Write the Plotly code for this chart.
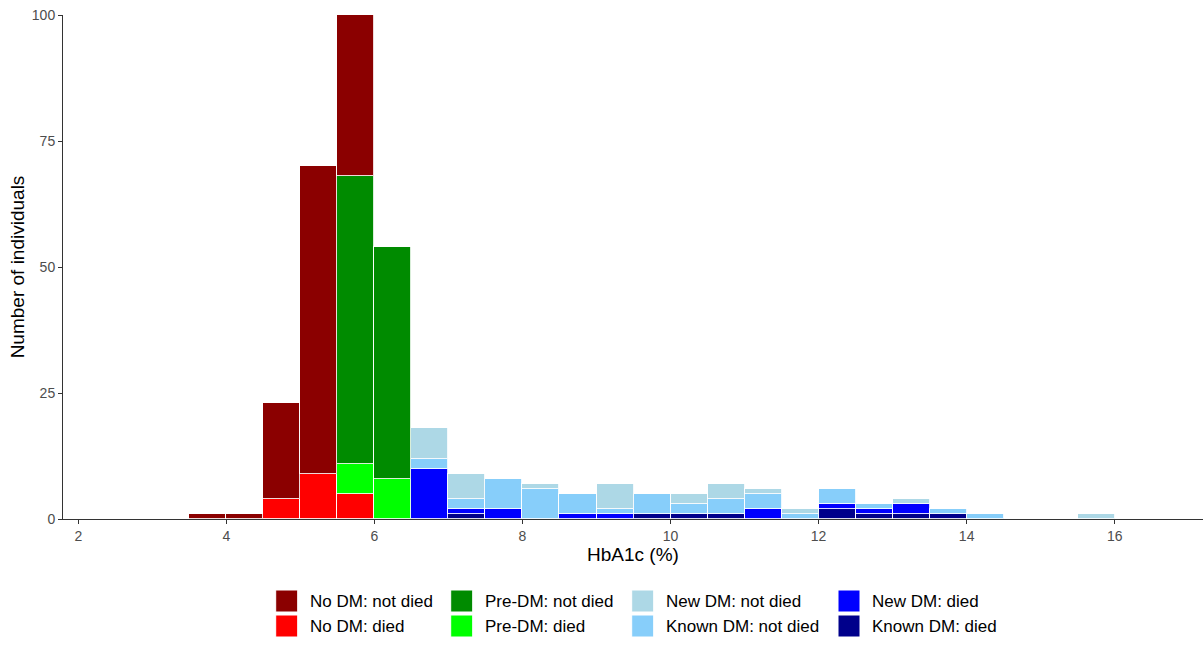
import plotly.graph_objects as go

# HbA1c bins (width 0.5 %), left edges
bin_left = [3.5, 4.0, 4.5, 5.0, 5.5, 6.0, 6.5, 7.0, 7.5, 8.0, 8.5, 9.0, 9.5,
            10.0, 10.5, 11.0, 11.5, 12.0, 12.5, 13.0, 13.5, 14.0, 14.5, 15.0, 15.5]
bin_width = 0.5

# Counts per bin for each group
no_dm_not_died    = [1, 1, 19, 61, 32, 0, 0, 0, 0, 0, 0, 0, 0, 0, 0, 0, 0, 0, 0, 0, 0, 0, 0, 0, 0]
no_dm_died        = [0, 0, 4, 9, 5, 0, 0, 0, 0, 0, 0, 0, 0, 0, 0, 0, 0, 0, 0, 0, 0, 0, 0, 0, 0]
pre_dm_not_died   = [0, 0, 0, 0, 57, 46, 0, 0, 0, 0, 0, 0, 0, 0, 0, 0, 0, 0, 0, 0, 0, 0, 0, 0, 0]
pre_dm_died       = [0, 0, 0, 0, 6, 8, 0, 0, 0, 0, 0, 0, 0, 0, 0, 0, 0, 0, 0, 0, 0, 0, 0, 0, 0]
new_dm_not_died   = [0, 0, 0, 0, 0, 0, 6, 5, 0, 1, 0, 5, 0, 2, 3, 1, 1, 0, 0, 1, 0, 0, 0, 0, 1]
known_dm_not_died = [0, 0, 0, 0, 0, 0, 2, 2, 6, 6, 4, 1, 4, 2, 3, 3, 1, 3, 1, 0, 1, 1, 0, 0, 0]
new_dm_died       = [0, 0, 0, 0, 0, 0, 10, 1, 2, 0, 1, 1, 0, 0, 0, 2, 0, 1, 1, 2, 0, 0, 0, 0, 0]
known_dm_died     = [0, 0, 0, 0, 0, 0, 0, 1, 0, 0, 0, 0, 1, 1, 1, 0, 0, 2, 1, 1, 1, 0, 0, 0, 0]

x_ticks = [2, 4, 6, 8, 10, 12, 14, 16]
y_ticks = [0, 25, 50, 75, 100]

groups = {
    "No DM: not died": (no_dm_not_died, "#8B0000"),
    "No DM: died": (no_dm_died, "#FF0000"),
    "Pre-DM: not died": (pre_dm_not_died, "#008B00"),
    "Pre-DM: died": (pre_dm_died, "#00FF00"),
    "New DM: not died": (new_dm_not_died, "#ADD8E6"),
    "Known DM: not died": (known_dm_not_died, "#87CEFA"),
    "New DM: died": (new_dm_died, "#0000FF"),
    "Known DM: died": (known_dm_died, "#00008B"),
}

# stacking order, bottom to top
stack_order = ["Known DM: died", "New DM: died", "No DM: died", "Pre-DM: died",
               "Known DM: not died", "New DM: not died", "Pre-DM: not died",
               "No DM: not died"]

centres = [b + bin_width / 2 for b in bin_left]

fig = go.Figure()
for name in stack_order:
    counts, colour = groups[name]
    fig.add_trace(go.Bar(
        x=centres,
        y=[c if c > 0 else None for c in counts],
        width=bin_width,
        name=name,
        marker=dict(color=colour, line=dict(color="rgba(255,255,255,0.85)", width=1)),
        showlegend=False,
        hovertemplate="%{x}: %{y}<extra>" + name + "</extra>",
    ))

W, H = 1203, 645
ML, MR, MT, MB = 63, 0, 15, 126
pw, ph = W - ML - MR, H - MT - MB

fig.update_layout(
    width=W, height=H,
    margin=dict(l=ML, r=MR, t=MT, b=MB),
    barmode="stack",
    bargap=0,
    plot_bgcolor="white",
    paper_bgcolor="white",
    font=dict(family="Liberation Sans, Arial, sans-serif", color="#4D4D4D"),
    showlegend=False,
    xaxis=dict(
        range=[1.793, 17.193],
        tickvals=x_ticks,
        ticktext=[str(v) for v in x_ticks],
        ticks="outside", ticklen=4, tickcolor="#333333", tickwidth=1,
        showline=True, linecolor="#333333", linewidth=1,
        showgrid=False, zeroline=False,
        tickfont=dict(size=14, color="#4D4D4D"),
        title=dict(text="HbA1c (%)", font=dict(size=19, color="black"), standoff=4),
    ),
    yaxis=dict(
        range=[0, 100],
        tickvals=y_ticks,
        ticks="outside", ticklen=4, tickcolor="#333333", tickwidth=1,
        showline=True, linecolor="#333333", linewidth=1,
        showgrid=False, zeroline=False,
        tickfont=dict(size=14, color="#4D4D4D"),
        title=dict(text="Number of individuals", font=dict(size=19, color="black"), standoff=2),
    ),
)

# Legend: four columns of two keys each, below the plot
legend_cols = [
    (275.7, ["No DM: not died", "No DM: died"]),
    (450.7, ["Pre-DM: not died", "Pre-DM: died"]),
    (631.7, ["New DM: not died", "Known DM: not died"]),
    (838.0, ["New DM: died", "Known DM: died"]),
]
row_top = [590.0, 615.0]
key = 22.0


def px_to_paper_x(px):
    return (px - ML) / pw


def px_to_paper_y(py):
    return (H - MB - py) / ph


shapes = []
annotations = []
for x0, names in legend_cols:
    for r, name in enumerate(names):
        colour = groups[name][1]
        y0 = row_top[r]
        shapes.append(dict(
            type="rect", xref="paper", yref="paper",
            x0=px_to_paper_x(x0), x1=px_to_paper_x(x0 + key),
            y0=px_to_paper_y(y0 + key), y1=px_to_paper_y(y0),
            fillcolor=colour, line=dict(color="white", width=1),
        ))
        annotations.append(dict(
            xref="paper", yref="paper",
            x=px_to_paper_x(x0 + key + 10), y=px_to_paper_y(y0 + key / 2),
            xanchor="left", yanchor="middle",
            text=name, showarrow=False,
            font=dict(size=17, color="black"),
        ))

fig.update_layout(shapes=shapes, annotations=annotations)

fig.write_html("out.html")
